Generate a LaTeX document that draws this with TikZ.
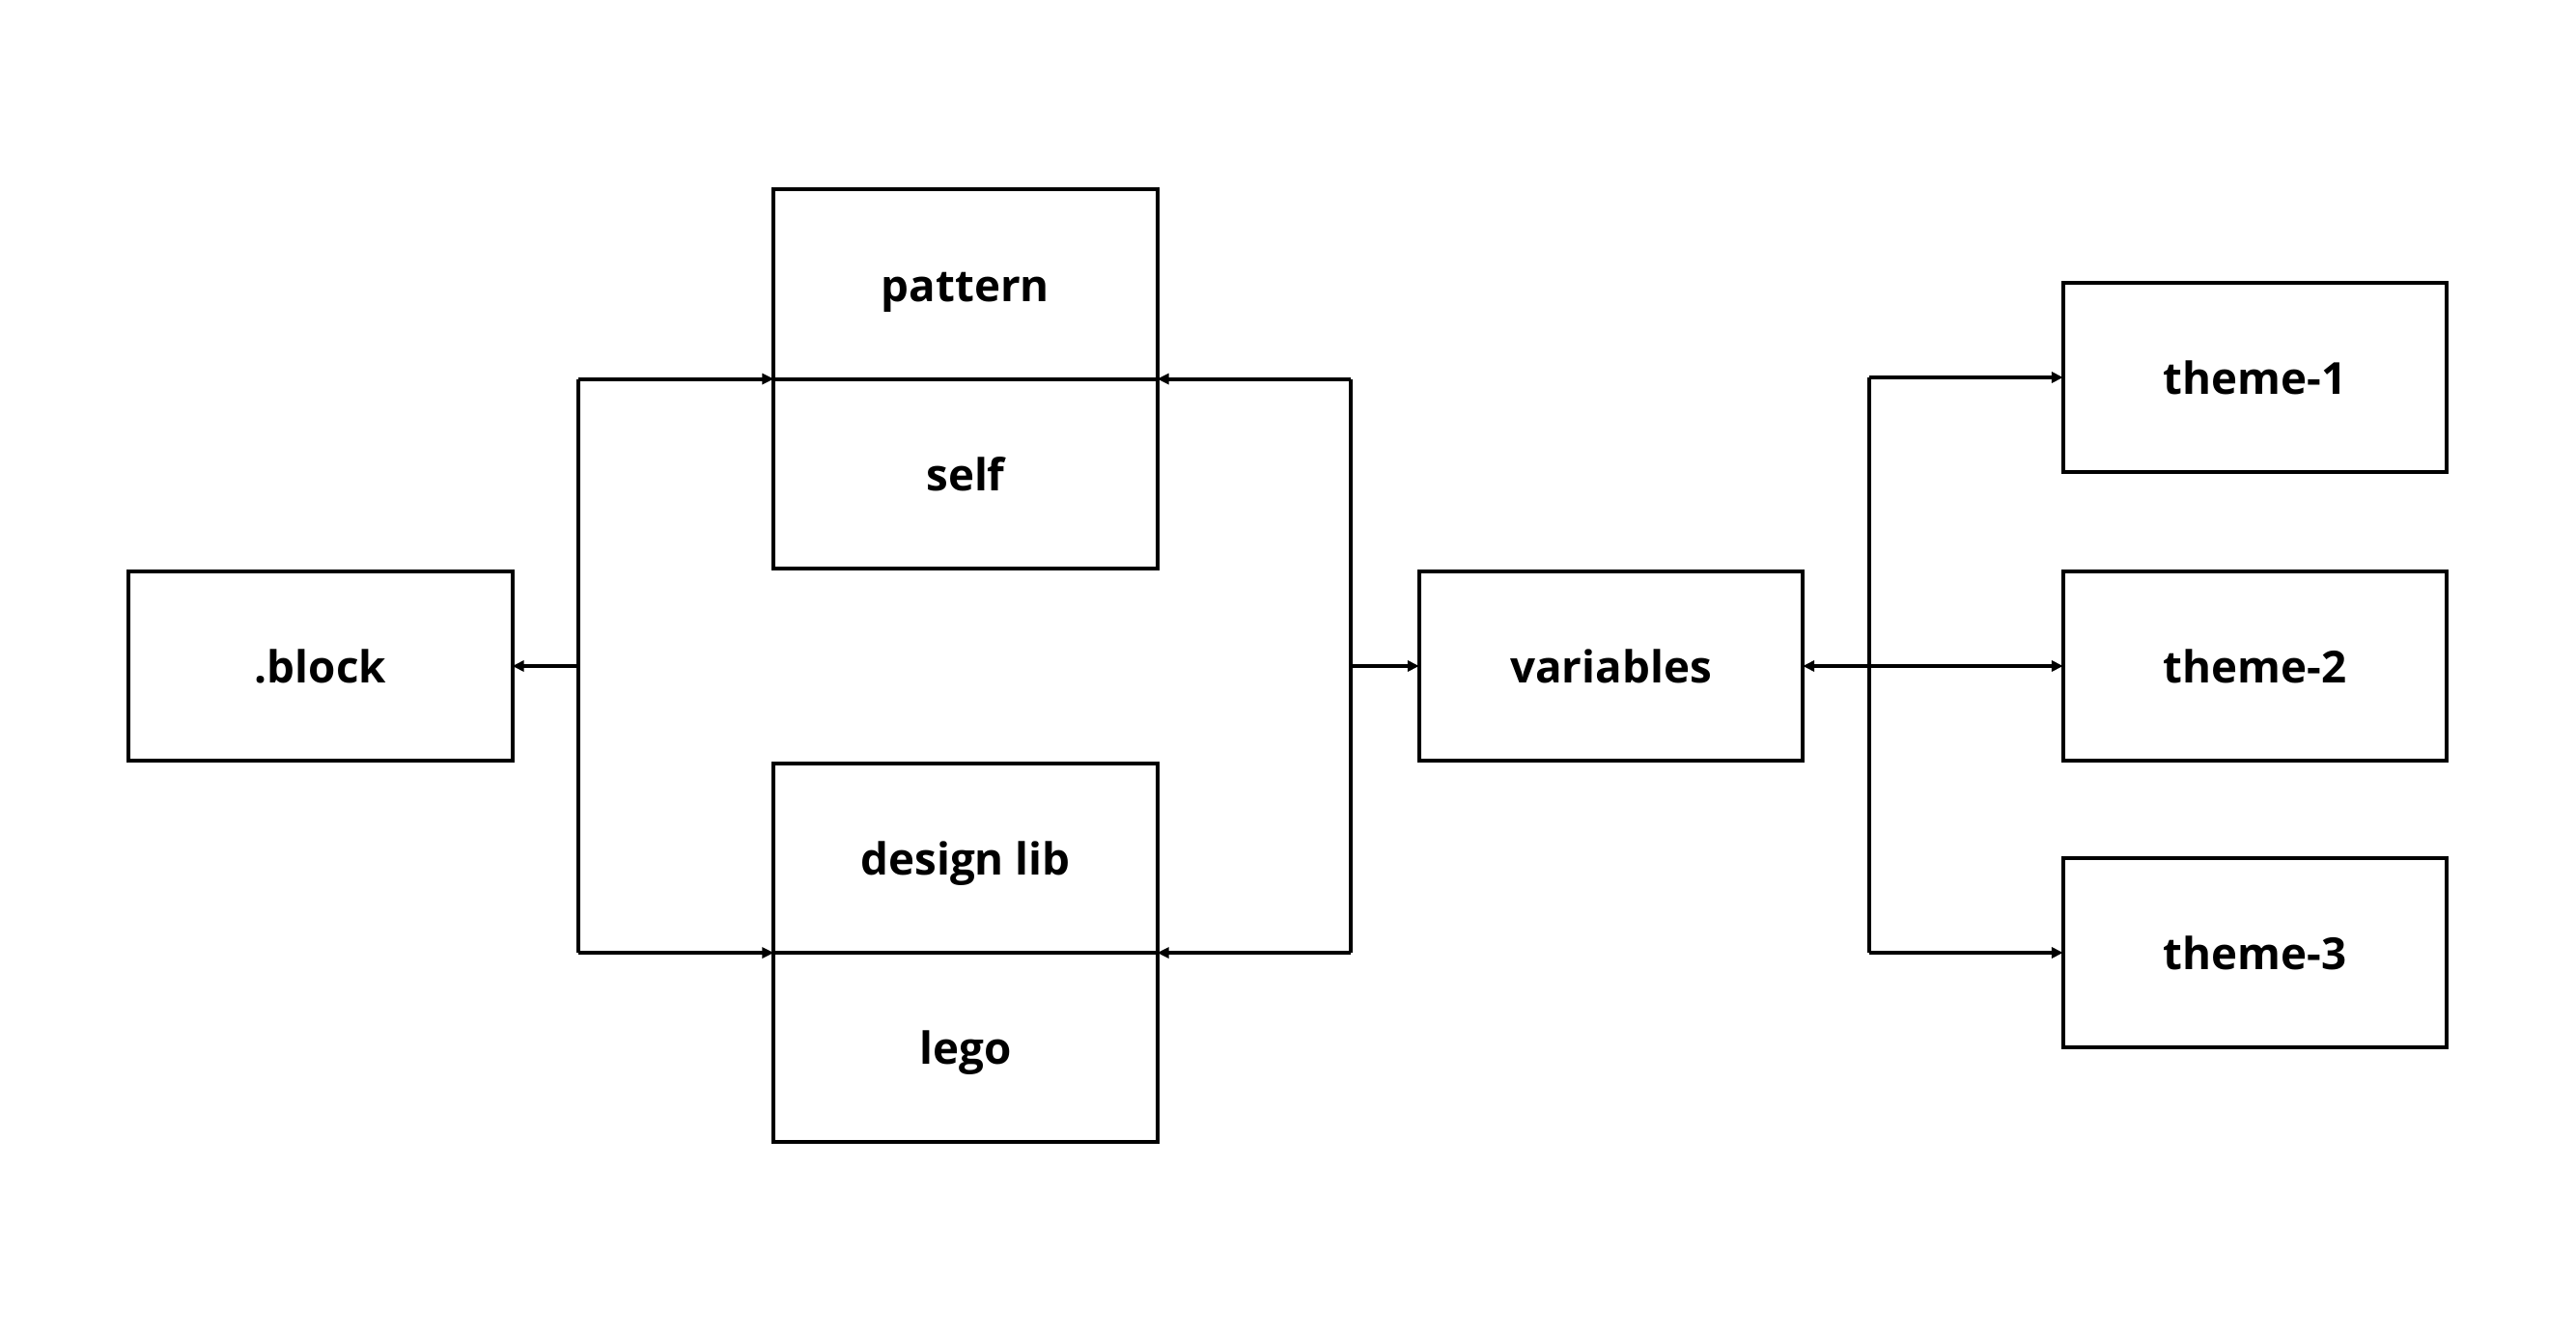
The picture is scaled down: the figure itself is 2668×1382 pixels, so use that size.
\documentclass[tikz,border=0pt]{standalone}
\usepackage{fontspec}
\setmainfont{Open Sans}
\usetikzlibrary{arrows.meta}
\begin{document}
\begin{tikzpicture}[x=0.01cm,y=-0.01cm,
  box/.style={draw=black,line width=1.15pt,inner sep=0pt,outer sep=0pt,
    minimum width=3.97cm,minimum height=1.96cm,
    text height=1.0em,text depth=0pt,
    font=\fontsize{13}{15}\selectfont\bfseries},
  wire/.style={line width=1.15pt,draw=black},
  tip/.style={wire,-{Triangle[length=1.2mm,width=1.1mm]}}]
\useasboundingbox (0,0) rectangle (2668,1382);
\fill[white] (0,0) rectangle (2668,1382);
% boxes
\node[box] (block) at (332,690) {.block};
\node[box] (pattern) at (1000,294.5) {pattern};
\node[box,anchor=north] (self) at (pattern.south) {self};
\node[box] (design) at (1000,889) {design lib};
\node[box,anchor=north] (lego) at (design.south) {lego};
\node[box] (vars) at (1668.5,690) {variables};
\node[box] (t1) at (2335.5,391) {theme-1};
\node[box] (t2) at (2335.5,690) {theme-2};
\node[box] (t3) at (2335.5,987) {theme-3};
% bus coordinates
\coordinate (busL) at (599,690);
\coordinate (busM) at (1399,690);
\coordinate (busR) at (1936,690);
% left bus
\draw[wire] (busL |- pattern.south west) -- (busL |- design.south west);
\draw[tip] (busL) -- (block.east);
\draw[tip] (busL |- pattern.south west) -- (pattern.south west);
\draw[tip] (busL |- design.south west) -- (design.south west);
% middle bus
\draw[wire] (busM |- pattern.south east) -- (busM |- design.south east);
\draw[tip] (busM |- pattern.south east) -- (pattern.south east);
\draw[tip] (busM |- design.south east) -- (design.south east);
\draw[tip] (busM) -- (vars.west);
% right bus
\draw[wire] (busR |- t1.west) -- (busR |- t3.west);
\draw[tip] (busR) -- (vars.east);
\draw[tip] (busR |- t1.west) -- (t1.west);
\draw[tip] (busR) -- (t2.west);
\draw[tip] (busR |- t3.west) -- (t3.west);
\end{tikzpicture}
\end{document}
